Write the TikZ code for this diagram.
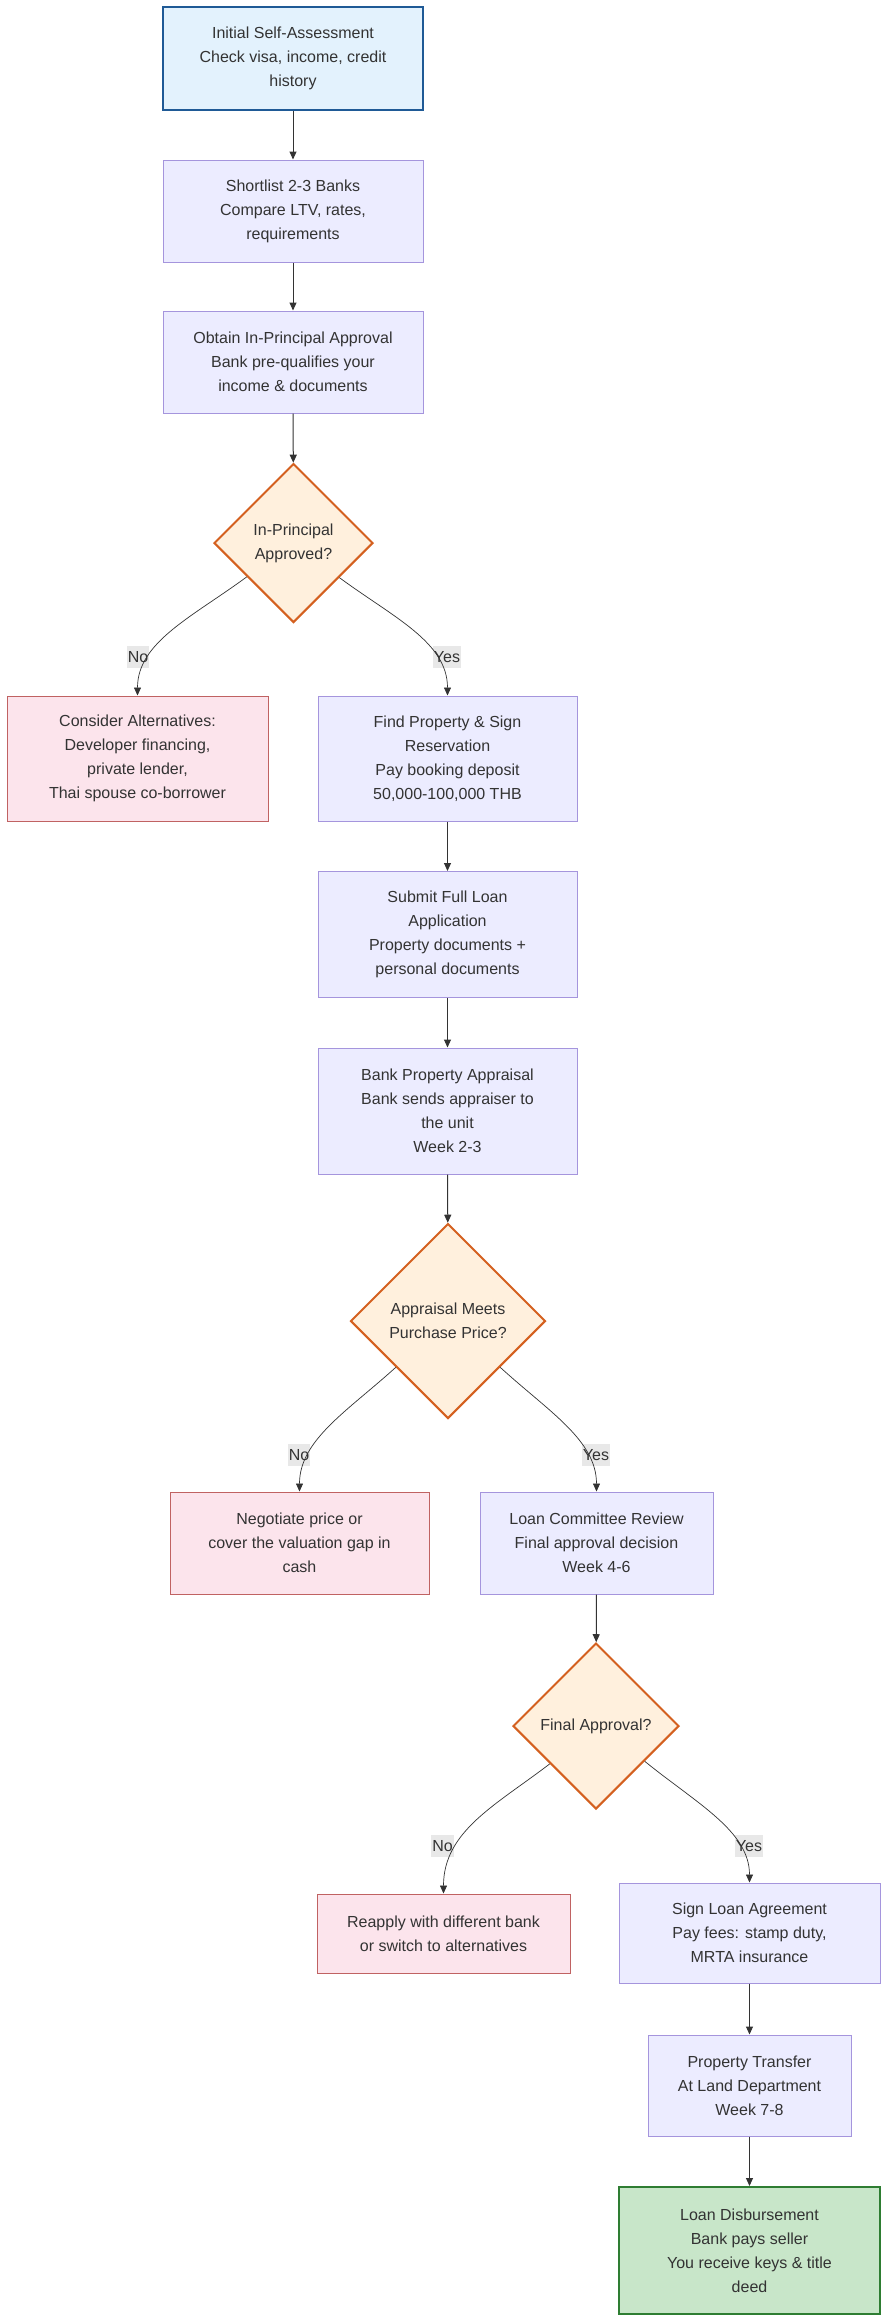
\documentclass[tikz,border=0pt]{standalone}
\usepackage{fontspec}
\setmainfont{Liberation Sans}
\usetikzlibrary{shapes.geometric,arrows.meta,calc}
\definecolor{txt}{HTML}{333333}
\definecolor{lav}{HTML}{ECECFF}
\definecolor{purp}{HTML}{A595DD}
\definecolor{startfill}{HTML}{E3F2FD}
\definecolor{startdraw}{HTML}{1F5A96}
\definecolor{altfill}{HTML}{FCE4EC}
\definecolor{altdraw}{HTML}{C06262}
\definecolor{decfill}{HTML}{FFF0DD}
\definecolor{decdraw}{HTML}{D4601F}
\definecolor{endfill}{HTML}{C8E6C9}
\definecolor{enddraw}{HTML}{2E7D32}
\definecolor{labfill}{HTML}{E8E8E8}
\definecolor{edge}{HTML}{333333}
\begin{document}
\begin{tikzpicture}[x=1pt,y=-1pt,
  base/.style={font=\fontsize{16}{24}\selectfont, text=txt, align=center, inner sep=0pt},
  proc/.style={base, rectangle, draw=purp, fill=lav, line width=1pt},
  startbox/.style={base, rectangle, draw=startdraw, fill=startfill, line width=2pt},
  altbox/.style={base, rectangle, draw=altdraw, fill=altfill, line width=1pt},
  endbox/.style={base, rectangle, draw=enddraw, fill=endfill, line width=2pt},
  decision/.style={base, diamond, aspect=1, draw=decdraw, fill=decfill, line width=2pt},
  elabel/.style={font=\fontsize{16}{24}\selectfont, text=txt, fill=labfill, inner xsep=1pt, inner ysep=0pt, minimum height=22},
  arr/.style={draw=edge, line width=1pt, -{Triangle[length=8pt,width=7pt]}},
  carr/.style={draw=edge, line width=0.7pt, -{Triangle[length=8pt,width=7pt]}}
]
\useasboundingbox (0,0) rectangle (888,2322);

\node[startbox, minimum width=260, minimum height=103] (n1) at (293,58.5) {Initial Self-Assessment\\Check visa, income, credit\\history};
\node[proc, minimum width=260, minimum height=102] (n2) at (293,211) {Shortlist 2-3 Banks\\Compare LTV, rates,\\requirements};
\node[proc, minimum width=260, minimum height=102] (n3) at (293,362) {Obtain In-Principal Approval\\Bank pre-qualifies your\\income \& documents};
\node[decision, minimum width=159, minimum height=159] (d1) at (293.5,543) {In-Principal\\Approved?};
\node[altbox, minimum width=261, minimum height=125] (n5) at (137.5,758.5) {Consider Alternatives:\\Developer financing,\\private lender,\\Thai spouse co-borrower};
\node[proc, minimum width=259, minimum height=125] (n6) at (447.5,758.5) {Find Property \& Sign\\Reservation\\Pay booking deposit\\50,000-100,000 THB};
\node[proc, minimum width=259, minimum height=126] (n7) at (447.5,934.5) {Submit Full Loan\\Application\\Property documents +\\personal documents};
\node[proc, minimum width=259, minimum height=126] (n8) at (447.5,1111) {Bank Property Appraisal\\Bank sends appraiser to\\the unit\\Week 2-3};
\node[decision, minimum width=195, minimum height=195] (d2) at (448,1321) {Appraisal Meets\\Purchase Price?};
\node[altbox, minimum width=259, minimum height=102] (n10) at (299.5,1543) {Negotiate price or\\cover the valuation gap in\\cash};
\node[proc, minimum width=233, minimum height=102] (n11) at (596.5,1543) {Loan Committee Review\\Final approval decision\\Week 4-6};
\node[decision, minimum width=166, minimum height=166] (d3) at (596,1726) {Final Approval?};
\node[altbox, minimum width=253, minimum height=79] (n13) at (443.5,1933.5) {Reapply with different bank\\or switch to alternatives};
\node[proc, minimum width=261, minimum height=100] (n14) at (749.5,1933) {Sign Loan Agreement\\Pay fees: stamp duty,\\MRTA insurance};
\node[proc, minimum width=203, minimum height=101] (n15) at (749.5,2085.5) {Property Transfer\\At Land Department\\Week 7-8};
\node[endbox, minimum width=261, minimum height=127] (n16) at (749.5,2250.5) {Loan Disbursement\\Bank pays seller\\You receive keys \& title\\deed};

% straight connectors
\draw[arr] (n1) -- (n2);
\draw[arr] (n2) -- (n3);
\draw[arr] (n3) -- (d1);
\draw[arr] (n6) -- (n7);
\draw[arr] (n7) -- (n8);
\draw[arr] (n8) -- (d2);
\draw[arr] (n11) -- (d3);
\draw[arr] (n14) -- (n15);
\draw[arr] (n15) -- (n16);

% label coordinates
\coordinate (l1c) at (138,657);
\coordinate (l2c) at (447,657);
\coordinate (l3c) at (299,1455);
\coordinate (l4c) at (596,1455);
\coordinate (l5c) at (442.5,1846);
\coordinate (l6c) at (749,1846);

\node[elabel] (l1) at (l1c) {No};
\node[elabel] (l2) at (l2c) {Yes};
\node[elabel] (l3) at (l3c) {No};
\node[elabel] (l4) at (l4c) {Yes};
\node[elabel] (l5) at (l5c) {No};
\node[elabel] (l6) at (l6c) {Yes};

% exit points on the diamonds
\coordinate (s1) at ($(d1.west)!0.42!(d1.south)$);
\coordinate (s2) at ($(d1.east)!0.43!(d1.south)$);
\coordinate (s3) at ($(d2.west)!0.47!(d2.south)$);
\coordinate (s4) at ($(d2.east)!0.47!(d2.south)$);
\coordinate (s5) at ($(d3.west)!0.45!(d3.south)$);
\coordinate (s6) at ($(d3.east)!0.42!(d3.south)$);

% curved connectors
\draw[carr] (s1) .. controls ($(s1)!0.5!(l1c)$) and ($(n5.north |- l1c)+(0,-15)$) .. (n5.north);
\draw[carr] (s2) .. controls ($(s2)!0.5!(l2c)$) and ($(n6.north |- l2c)+(0,-15)$) .. (n6.north);
\draw[carr] (s3) .. controls ($(s3)!0.5!(l3c)$) and ($(n10.north |- l3c)+(0,-15)$) .. (n10.north);
\draw[carr] (s4) .. controls ($(s4)!0.5!(l4c)$) and ($(n11.north |- l4c)+(0,-15)$) .. (n11.north);
\draw[carr] (s5) .. controls ($(s5)!0.5!(l5c)$) and ($(n13.north |- l5c)+(0,-15)$) .. (n13.north);
\draw[carr] (s6) .. controls ($(s6)!0.5!(l6c)$) and ($(n14.north |- l6c)+(0,-15)$) .. (n14.north);
\end{tikzpicture}
\end{document}
